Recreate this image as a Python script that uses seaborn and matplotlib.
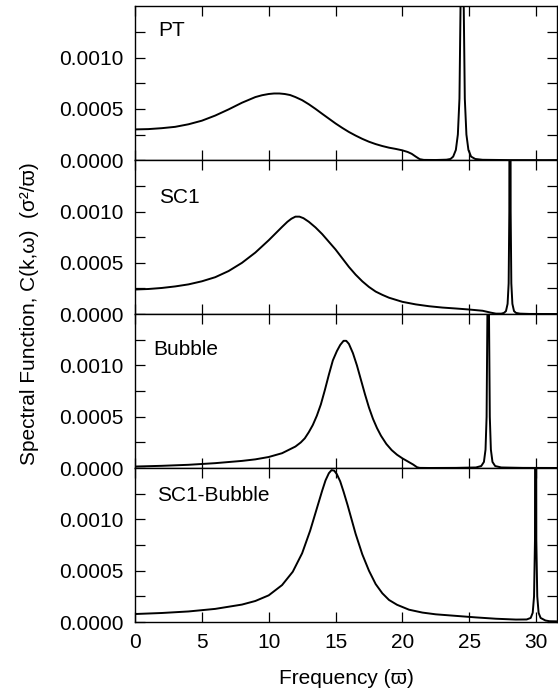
import matplotlib
matplotlib.use("Agg")
import matplotlib.pyplot as plt
import numpy as np
import pandas as pd
import seaborn as sns
from matplotlib.ticker import FixedLocator, FixedFormatter

# ---------------- data ----------------
panel_names = ["PT", "SC1", "Bubble", "SC1-Bubble"]

pt_freq = [0, 1, 2, 3, 4, 5, 6, 7, 8, 9, 9.5, 10, 10.4, 10.8, 11.2, 11.6, 12.0,
           12.5, 13.0, 13.5, 14.0, 14.5, 15.0, 15.5, 16.0, 16.5, 17.0, 17.5, 18.0,
           18.5, 19.0, 19.5, 20.0, 20.4, 20.7, 21.0, 21.3, 21.6, 22.5, 23.3, 23.6,
           23.8, 24.0, 24.15, 24.27, 24.35, 24.47, 24.59, 24.67, 24.79, 24.94,
           25.14, 25.45, 26.0, 28.0, 32.0]
pt_c = [3.0, 3.03, 3.12, 3.25, 3.5, 3.85, 4.35, 4.95, 5.6, 6.15, 6.33, 6.45, 6.5,
        6.5, 6.45, 6.35, 6.15, 5.85, 5.45, 5.0, 4.52, 4.05, 3.58, 3.15, 2.75, 2.4,
        2.08, 1.8, 1.57, 1.38, 1.22, 1.1, 0.96, 0.8, 0.62, 0.35, 0.1, 0.03,
        0.02, 0.05, 0.12, 0.35, 1.0, 2.5, 6.0, 15.0, 100.0, 15.0, 6.0, 2.5, 1.0,
        0.35, 0.12, 0.04, 0.01, 0.005]

sc1_freq = [0, 1, 2, 3, 4, 5, 6, 7, 8, 9, 10, 10.5, 11, 11.4, 11.7, 12.0, 12.3,
            12.6, 13.0, 13.5, 14, 14.5, 15, 15.5, 16, 16.5, 17, 17.5, 18, 18.5, 19,
            20, 21, 22, 23, 24, 25, 26, 26.6, 27.0, 27.4, 27.6, 27.75, 27.87, 27.95,
            28.0, 28.05, 28.1, 28.15, 28.23, 28.35, 28.5, 28.8, 29.5, 32.0]
sc1_c = [2.4, 2.45, 2.55, 2.7, 2.9, 3.2, 3.6, 4.2, 5.0, 6.0, 7.2, 7.85, 8.5, 9.0,
         9.3, 9.5, 9.5, 9.35, 9.0, 8.45, 7.8, 7.05, 6.3, 5.45, 4.6, 3.85, 3.2,
         2.65, 2.2, 1.88, 1.6, 1.2, 0.95, 0.77, 0.64, 0.55, 0.45, 0.33, 0.15, 0.05,
         0.05, 0.12, 0.3, 1.0, 3.0, 10.0, 80.0, 10.0, 3.0, 1.0, 0.3, 0.12, 0.05,
         0.02, 0.01]

bub_freq = [0, 2, 4, 6, 8, 9, 10, 11, 12, 12.4, 12.7, 13.0, 13.3, 13.6, 13.9, 14.2,
            14.5, 14.8, 15.1, 15.35, 15.6, 15.8, 16.0, 16.3, 16.6, 16.9, 17.2, 17.5,
            17.8, 18.1, 18.4, 18.8, 19.2, 19.6, 20.0, 20.4, 20.8, 21.1, 21.3, 22.0,
            24.0, 25.5, 25.9, 26.1, 26.22, 26.3, 26.36, 26.42, 26.48, 26.54, 26.62,
            26.74, 26.94, 27.4, 29.0, 32.0]
bub_c = [0.15, 0.22, 0.32, 0.48, 0.7, 0.85, 1.08, 1.45, 2.1, 2.5, 2.9, 3.5, 4.2,
         5.1, 6.2, 7.6, 9.1, 10.5, 11.4, 12.0, 12.4, 12.4, 12.1, 11.2, 10.0, 8.6,
         7.2, 5.9, 4.8, 3.9, 3.15, 2.35, 1.75, 1.3, 0.95, 0.65, 0.35, 0.08, 0.02,
         0.01, 0.02, 0.06, 0.2, 0.6, 1.8, 5.0, 15.0, 60.0, 15.0, 5.0, 1.8, 0.6,
         0.2, 0.06, 0.02, 0.01]

scb_freq = [0, 2, 4, 6, 8, 9, 10, 11, 11.8, 12.5, 13.1, 13.4, 13.7, 14.0, 14.25,
            14.5, 14.7, 14.9, 15.1, 15.35, 15.6, 15.9, 16.2, 16.5, 17.0, 17.5, 18.0,
            18.5, 19.0, 19.6, 20.5, 21.5, 22.5, 24.0, 25.5, 27.0, 28.5, 29.3, 29.6,
            29.75, 29.85, 29.92, 29.97, 30.02, 30.09, 30.19, 30.34, 30.7, 31.0, 32.0]
scb_c = [0.78, 0.88, 1.03, 1.28, 1.7, 2.05, 2.6, 3.6, 4.9, 6.7, 8.9, 10.2, 11.5,
         12.8, 13.8, 14.5, 14.8, 14.75, 14.4, 13.7, 12.7, 11.4, 10.0, 8.6, 6.6,
         5.0, 3.7, 2.8, 2.15, 1.68, 1.2, 0.92, 0.75, 0.6, 0.45, 0.32, 0.24, 0.25,
         0.4, 0.9, 2.5, 8.0, 80.0, 8.0, 2.5, 0.9, 0.4, 0.15, 0.08, 0.05]

c_unit = 1e-4  # values above are in units of 1e-4 sigma^2/varpi

x_ticks = [0, 5, 10, 15, 20, 25, 30]
x_ticklabels = ["0", "5", "10", "15", "20", "25", "30"]
y_ticks = [0.0, 0.0005, 0.0010]
y_ticklabels = ["0.0000", "0.0005", "0.0010"]
y_minor = [0.00025, 0.00075, 0.00125]

label_pos = [(0.055, 0.842), (0.058, 0.755), (0.043, 0.768), (0.052, 0.825)]

# ---------------- plotting ----------------
sns.set_theme(style="ticks")
plt.rcParams["font.family"] = ["Liberation Sans", "DejaVu Sans"]
plt.rcParams["axes.linewidth"] = 1.0

series = [(pt_freq, pt_c), (sc1_freq, sc1_c), (bub_freq, bub_c), (scb_freq, scb_c)]

fig, axes = plt.subplots(4, 1, figsize=(5.58, 6.95), dpi=100, sharex=True)
fig.subplots_adjust(left=0.242, right=0.999, top=0.991, bottom=0.105, hspace=0)

for ax, name, (fx, fc), lp in zip(axes, panel_names, series, label_pos):
    df = pd.DataFrame({"freq": fx, "C": np.array(fc) * c_unit})
    sns.lineplot(data=df, x="freq", y="C", ax=ax, color="black", linewidth=1.4,
                 sort=False, estimator=None)
    ax.set_xlim(0, 31.6)
    ax.set_ylim(0, 0.0015)
    ax.yaxis.set_major_locator(FixedLocator(y_ticks))
    ax.yaxis.set_major_formatter(FixedFormatter(y_ticklabels))
    ax.yaxis.set_minor_locator(FixedLocator(y_minor))
    ax.xaxis.set_major_locator(FixedLocator(x_ticks))
    ax.xaxis.set_major_formatter(FixedFormatter(x_ticklabels))
    ax.tick_params(axis="both", which="both", direction="in", top=True,
                   right=True, length=7, width=0.9, color="black",
                   labelsize=15, pad=8, labelcolor="black")
    ax.set_xlabel("")
    ax.set_ylabel("")
    for s in ax.spines.values():
        s.set_color("black")
    ax.text(lp[0], lp[1], name, transform=ax.transAxes, fontsize=15,
            ha="left", va="center", color="black")

for ax in axes[:-1]:
    ax.tick_params(labelbottom=False)

axes[-1].set_xlabel("Frequency (\u03d6)", fontsize=15, labelpad=12, color="black")
fig.text(0.052, 1 - 314 / 695, "Spectral Function, C(k,\u03c9)  (\u03c3\u00b2/\u03d6)",
         rotation=90, ha="center", va="center", fontsize=15, color="black")

fig.savefig("out.png", dpi=100)
